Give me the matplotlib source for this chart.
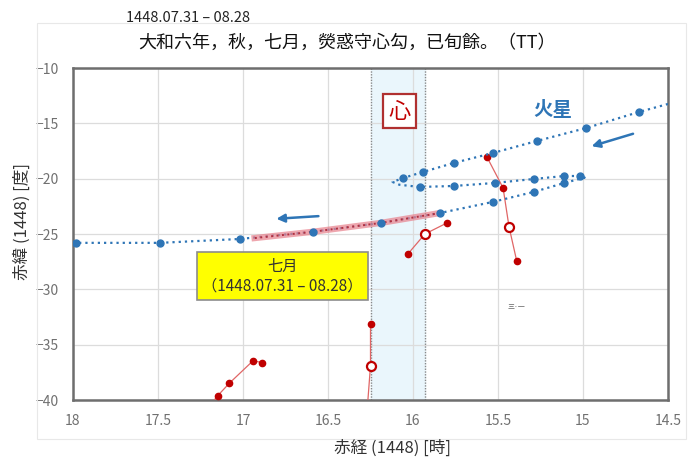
import numpy as np
import matplotlib
matplotlib.use('Agg')
from matplotlib import pyplot as plt
from matplotlib.patches import Rectangle

plt.rcParams['font.family'] = ['Noto Sans CJK JP', 'DejaVu Sans']

# Mars track, path points in time order
mars_ra = [14.50, 14.67, 14.98, 15.27, 15.53, 15.76, 15.94, 16.06, 16.12, 16.08,
           15.96, 15.76, 15.52, 15.29, 15.11, 15.02, 14.99, 15.11, 15.29, 15.53,
           15.84, 16.19, 16.59, 17.02, 17.49, 17.98, 18.00]
mars_dec = [-13.25, -13.97, -15.42, -16.59, -17.68, -18.58, -19.39, -19.95, -20.30, -20.55,
            -20.75, -20.66, -20.39, -20.03, -19.76, -19.76, -19.90, -20.39, -21.20, -22.10,
            -23.10, -24.00, -24.80, -25.45, -25.80, -25.80, -25.80]
# which path points carry a 10-day dot
mars_dot = [0, 1, 1, 1, 1, 1, 1, 1, 0, 0,
            1, 1, 1, 1, 1, 1, 0, 1, 1, 1,
            1, 1, 1, 1, 1, 1, 0]

# seventh month (1448.07.31 - 08.28)
month_ra = [15.84, 16.19, 16.59, 16.95]
month_dec = [-23.10, -24.00, -24.80, -25.40]

# lunar mansion stars
fang_ra = [15.565, 15.47, 15.435, 15.39]
fang_dec = [-18.04, -20.84, -24.36, -27.43]
fang_open = 2
xin_ra = [15.80, 15.93, 16.03]
xin_dec = [-24.00, -25.00, -26.80]
xin_open = 1
wei1_ra = [16.25, 16.25, 16.28]
wei1_dec = [-33.13, -36.90, -43.0]
wei1_open = 1
wei2_ra = [16.89, 16.94, 17.08, 17.15, 17.22]
wei2_dec = [-36.62, -36.44, -38.48, -39.63, -41.0]

band = (15.93, 16.245)

blue = '#2E75B6'
red = '#C00000'

fig = plt.figure(figsize=(6.96, 4.59), dpi=100)
ax = fig.add_axes([73 / 696, 1 - 400 / 459, 595 / 696, 332 / 459])

# faint chart-area frame
fig.patches.append(Rectangle((37 / 696, 1 - 439 / 459), 649 / 696, 416 / 459,
                             transform=fig.transFigure, fill=False,
                             edgecolor='#E8E8E8', lw=0.8, zorder=0))

ax.axvspan(band[0], band[1], color='#EAF6FC', zorder=0)
for b in band:
    ax.axvline(b, color='#8A8A8A', lw=1.0, ls=(0, (1, 1)), zorder=1)

ax.set_xlim(18, 14.5)
ax.set_ylim(-40, -10)
ax.set_xticks(np.arange(18, 14.49, -0.5))
ax.set_xticklabels(['18', '17.5', '17', '16.5', '16', '15.5', '15', '14.5'])
ax.set_yticks(np.arange(-40, -9, 5))
ax.grid(True, color='#DCDCDC', lw=0.9, zorder=0)
ax.set_axisbelow(True)
ax.tick_params(length=0, labelsize=10, labelcolor='#707070', pad=10)
for s in ax.spines.values():
    s.set_color('#6E6E6E')
    s.set_linewidth(1.8)

# stars
def stars(ra, dec, open_idx=None):
    ax.plot(ra, dec, color='#E06666', lw=0.9, zorder=3)
    for i, (r, d) in enumerate(zip(ra, dec)):
        if i == open_idx:
            ax.plot(r, d, 'o', ms=6.5, mfc='white', mec=red, mew=1.6, zorder=4)
        else:
            ax.plot(r, d, 'o', ms=4.5, color=red, zorder=4)

stars(fang_ra, fang_dec, fang_open)
stars(xin_ra, xin_dec, xin_open)
stars(wei1_ra, wei1_dec, wei1_open)
stars(wei2_ra, wei2_dec)

# Mars path
ax.plot(mars_ra, mars_dec, color=blue, lw=1.6, ls=(0, (1.0, 1.8)), zorder=5)
ax.plot(month_ra, month_dec, color='#E8808C', lw=4.5, alpha=0.7,
        solid_capstyle='butt', zorder=6)
ax.plot(month_ra, month_dec, color='#B03040', lw=1.4, ls=(0, (1.0, 1.8)), zorder=6)
dot_ra = [r for r, m in zip(mars_ra, mars_dot) if m]
dot_dec = [d for d, m in zip(mars_dec, mars_dot) if m]
ax.plot(dot_ra, dot_dec, 'o', ms=5, color=blue, zorder=7)

# arrows
ax.annotate('', xy=(14.965, -17.14), xytext=(14.69, -15.87),
            arrowprops=dict(arrowstyle='-|>', color=blue, lw=1.8, mutation_scale=12))
ax.annotate('', xy=(16.82, -23.64), xytext=(16.54, -23.37),
            arrowprops=dict(arrowstyle='-|>', color=blue, lw=1.8, mutation_scale=12))

ax.text(15.18, -13.8, '火星', color=blue, fontsize=14, fontweight='bold',
        ha='center', va='center', zorder=8)
ax.text(16.08, -13.9, '心', color=red, fontsize=16, ha='center', va='center', zorder=8,
        bbox=dict(boxstyle='square,pad=0.25', fc='white', ec='#B03030', lw=1.6))
ax.text(16.77, -28.8, '七月\n（1448.07.31 – 08.28）', fontsize=11, color='#333333',
        ha='center', va='center', linespacing=1.2, zorder=9,
        bbox=dict(boxstyle='square,pad=0.35', fc='#FFFF00', ec='#8C8C8C', lw=1.2))
ax.text(15.39, -31.6, '三·一', fontsize=5, color='#666666', ha='center', va='center')

fig.text(392 / 696, 1 - 448 / 459, '赤経 (1448) [時]', fontsize=12, color='#333333',
         ha='center', va='center')
fig.text(22 / 696, 1 - 222 / 459, '赤緯 (1448) [度]', fontsize=12, color='#333333',
         ha='center', va='center', rotation=90)

fig.text(126 / 696, 1 - 18 / 459, '1448.07.31 – 08.28', fontsize=10.5,
         color='#222222', ha='left', va='center')
fig.text(138 / 696, 1 - 43 / 459, '大和六年，秋，七月，熒惑守心勾，已旬餘。（TT）',
         fontsize=13, color='#111111', ha='left', va='center')

fig.savefig('out.png', dpi=100)
